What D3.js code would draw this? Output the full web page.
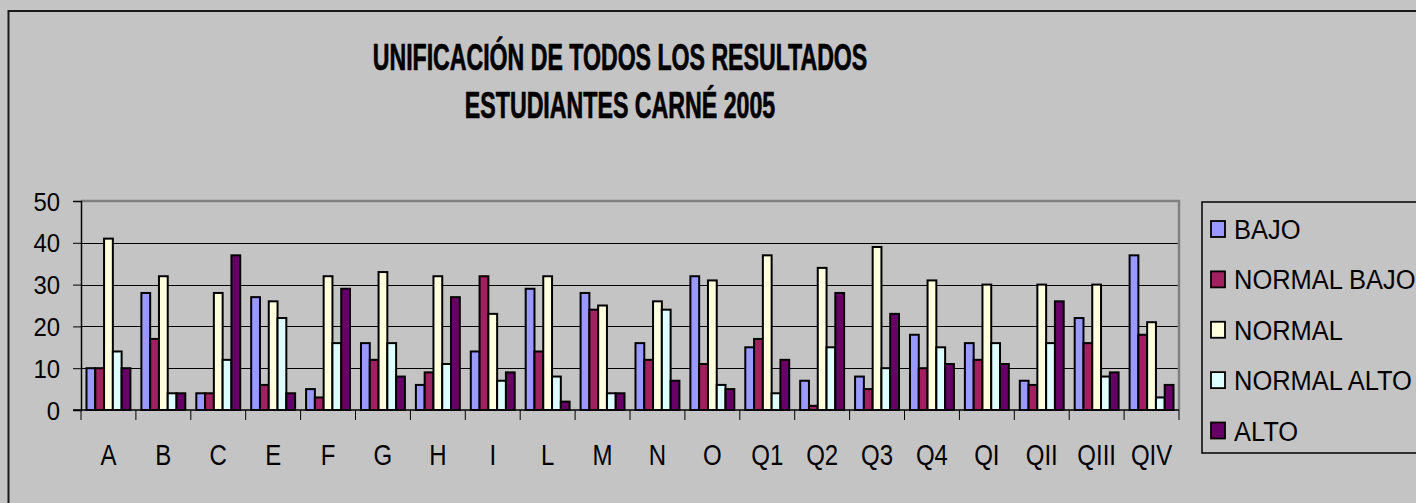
<!DOCTYPE html>
<html>
<head>
<meta charset="utf-8">
<script src="https://cdn.jsdelivr.net/npm/d3@7"></script>
<style>
  html, body { margin: 0; padding: 0; background: #c4c4c4; }
  svg { display: block; }
  text { font-family: "Liberation Sans", Arial, sans-serif; fill: #000; }
</style>
</head>
<body>
<svg id="chart" width="1416" height="503"></svg>
<script>
const categories = ["A","B","C","E","F","G","H","I","L","M","N","O","Q1","Q2","Q3","Q4","QI","QII","QIII","QIV"];
const seriesNames = ["BAJO","NORMAL BAJO","NORMAL","NORMAL ALTO","ALTO"];
const bajo       = [10,28, 4,27, 5,16, 6,14,29,28,16,32,15, 7, 8,18,16, 7,22,37];
const normalBajo = [10,17, 4, 6, 3,12, 9,32,14,24,12,11,17, 1, 5,10,12, 6,16,18];
const normal     = [41,32,28,26,32,33,32,23,32,25,26,31,37,34,39,31,30,30,30,21];
const normalAlto = [14, 4,12,22,16,16,11, 7, 8, 4,24, 6, 4,15,10,15,16,16, 8, 3];
const alto       = [10, 4,37, 4,29, 8,27, 9, 2, 4, 7, 5,12,28,23,11,11,26, 9, 6];
const yTicks = [0,10,20,30,40,50];
const titleLines = ["UNIFICACIÓN DE TODOS LOS RESULTADOS", "ESTUDIANTES CARNÉ 2005"];
const colors = ["#9999ff","#a02060","#ffffdd","#ddffff","#660066"];

const seriesValues = [bajo, normalBajo, normal, normalAlto, alto];

const svg = d3.select("#chart");

// chart area frame
svg.append("rect").attr("x", 8.5).attr("y", 11).attr("width", 1500).attr("height", 600)
  .attr("fill", "#c4c4c4").attr("stroke", "#1a1a1a").attr("stroke-width", 2);

// helper for compressed text
function txt(g, x, y, s, size, sx, anchor, weight) {
  return g.append("text")
    .attr("transform", `translate(${x},${y}) scale(${sx},1)`)
    .attr("text-anchor", anchor || "start")
    .style("font-size", size + "px")
    .style("font-weight", weight || "normal")
    .text(s);
}

// title
txt(svg, 620, 70, titleLines[0], 37, 0.625, "middle", "bold").attr("stroke", "#000").attr("stroke-width", 0.7);
txt(svg, 620, 118, titleLines[1], 36, 0.644, "middle", "bold").attr("stroke", "#000").attr("stroke-width", 0.7);

const x0 = 81, x1 = 1179, yTop = 201, yBot = 410;
const x = d3.scaleBand().domain(categories).range([x0, x1]).padding(0);
const xs = d3.scaleBand().domain(seriesNames).range([0, x.bandwidth()]).paddingInner(0).paddingOuter(0.625);
const y = d3.scaleLinear().domain([0, 50]).range([yBot, yTop]);

// gridlines
svg.append("g").selectAll("line").data(yTicks.filter(d => d > 0 && d < 50)).join("line")
  .attr("x1", x0).attr("x2", x1)
  .attr("y1", d => Math.round(y(d)) + 0.5).attr("y2", d => Math.round(y(d)) + 0.5)
  .attr("stroke", "#000").attr("stroke-width", 1);

// plot border (top/right gray)
svg.append("path")
  .attr("d", `M${x0},${y(50)} H${x1} V${yBot}`)
  .attr("fill", "none").attr("stroke", "#808080").attr("stroke-width", 2.5);

// bars
const rows = categories.map((c, i) => ({ c, vals: seriesValues.map(s => s[i]) }));
const groups = svg.append("g").selectAll("g").data(rows).join("g")
  .attr("transform", d => `translate(${x(d.c)},0)`);
groups.selectAll("rect").data(d => d.vals.map((v, k) => ({ v, k }))).join("rect")
  .attr("x", d => xs(seriesNames[d.k]))
  .attr("width", xs.bandwidth())
  .attr("y", d => y(d.v))
  .attr("height", d => y(0) - y(d.v))
  .attr("fill", d => colors[d.k])
  .attr("stroke", "#000").attr("stroke-width", 2);

// y axis
const yAxis = svg.append("g").attr("transform", `translate(${x0},0)`)
  .call(d3.axisLeft(y).tickValues(yTicks).tickSize(8).tickPadding(0));
yAxis.select(".domain").attr("stroke", "#000").attr("stroke-width", 1.5);
yAxis.selectAll(".tick line").attr("stroke", "#000").attr("stroke-width", 1);
yAxis.selectAll(".tick text").remove();
yAxis.selectAll(".tick").each(function(d) {
  txt(d3.select(this), -21, 9, d, 26, 0.92, "end");
});

// x axis
const xAxis = svg.append("g").attr("transform", `translate(0,${yBot})`);
xAxis.append("line").attr("x1", x0 - 8).attr("x2", x1).attr("y1", 0).attr("y2", 0)
  .attr("stroke", "#000").attr("stroke-width", 1.5);
xAxis.selectAll("line.tk").data(categories.map(c => x(c)).concat([x1])).join("line")
  .attr("class", "tk")
  .attr("x1", d => d).attr("x2", d => d).attr("y1", 0).attr("y2", 10)
  .attr("stroke", "#000").attr("stroke-width", 1);
xAxis.selectAll("g.lbl").data(categories).join("g").attr("class", "lbl")
  .each(function(c) {
    txt(d3.select(this), x(c) + x.bandwidth() / 2, 55, c, 30, 0.8, "middle");
  });

// legend
const lg = svg.append("g");
lg.append("rect").attr("x", 1202).attr("y", 202).attr("width", 400).attr("height", 251)
  .attr("fill", "#c4c4c4").attr("stroke", "#000").attr("stroke-width", 1.5);
const ly = d3.scalePoint().domain(seriesNames).range([229, 430.5]);
seriesNames.forEach((s, k) => {
  lg.append("rect").attr("x", 1211).attr("y", ly(s) - 8).attr("width", 14).attr("height", 16)
    .attr("fill", colors[k]).attr("stroke", "#000").attr("stroke-width", 1.8);
  txt(lg, 1234, ly(s) + 10, s, 28, 0.91, "start");
});
</script>
</body>
</html>
